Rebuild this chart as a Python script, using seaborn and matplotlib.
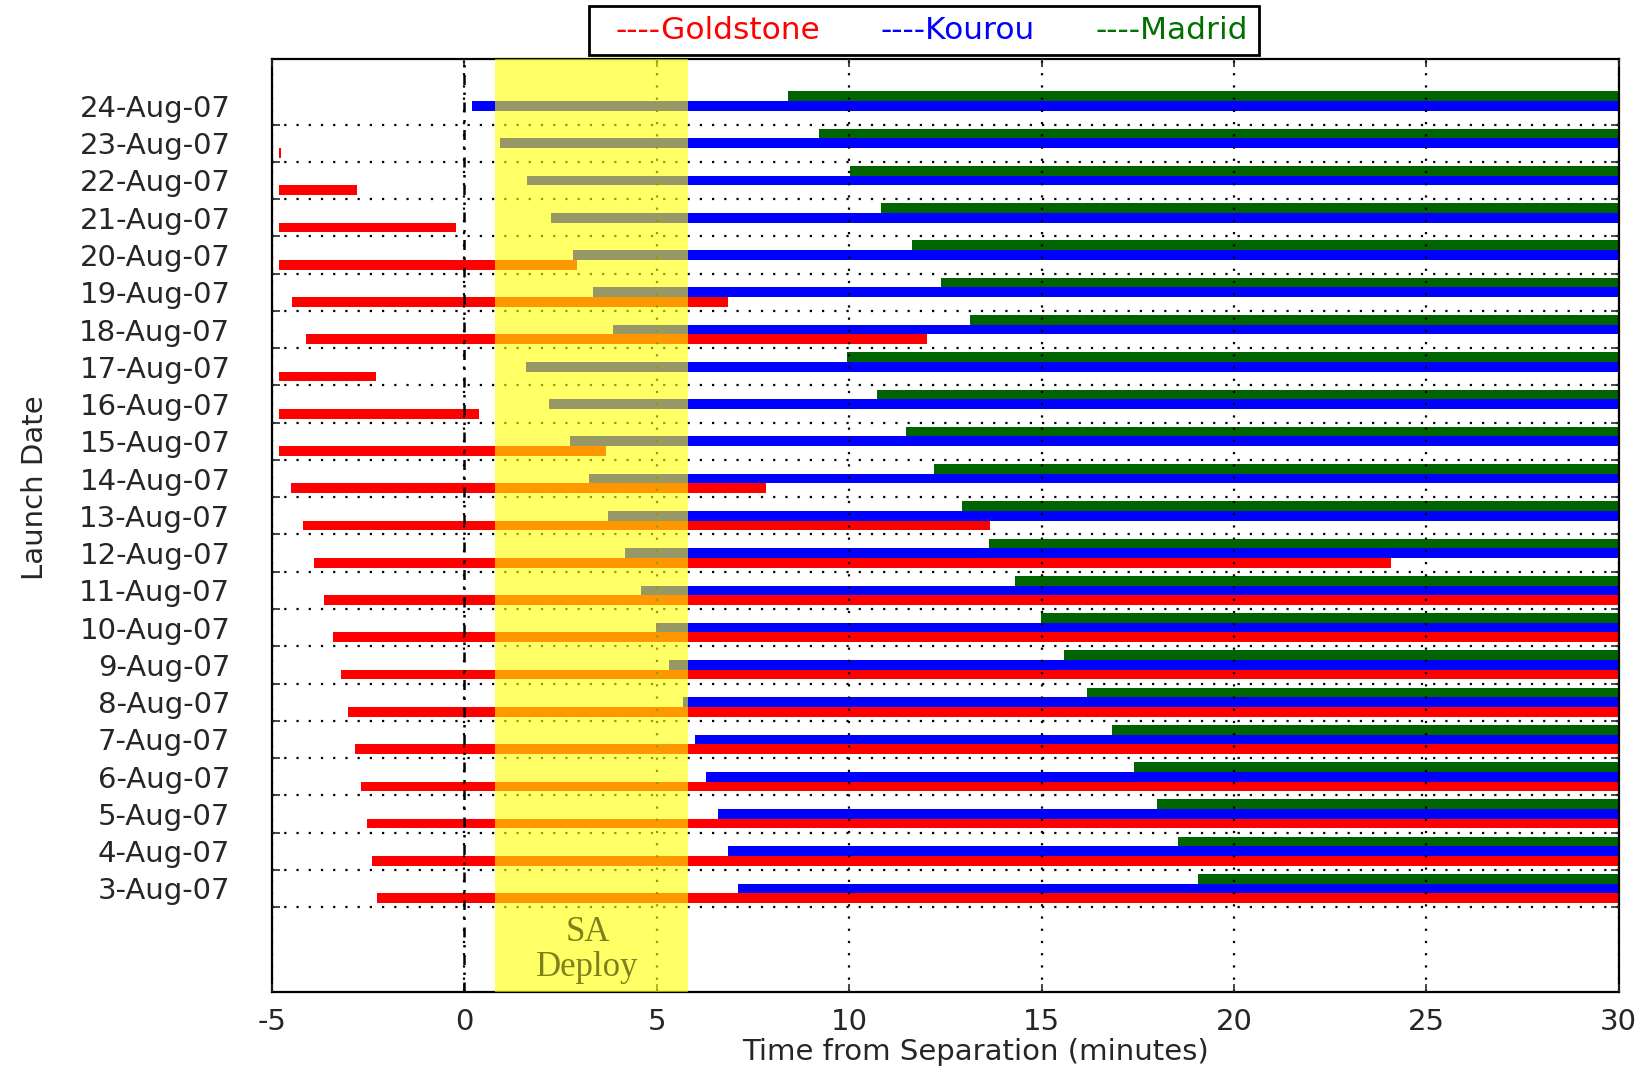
import numpy as np
import pandas as pd
import matplotlib
matplotlib.use('Agg')
import matplotlib.pyplot as plt
from matplotlib.lines import Line2D
from matplotlib.ticker import FixedLocator, MultipleLocator
import seaborn as sns

# --- Data (minutes from separation), top row first ---
dates = ['24-Aug-07', '23-Aug-07', '22-Aug-07', '21-Aug-07', '20-Aug-07', '19-Aug-07',
         '18-Aug-07', '17-Aug-07', '16-Aug-07', '15-Aug-07', '14-Aug-07', '13-Aug-07',
         '12-Aug-07', '11-Aug-07', '10-Aug-07', '9-Aug-07', '8-Aug-07', '7-Aug-07',
         '6-Aug-07', '5-Aug-07', '4-Aug-07', '3-Aug-07']

goldstone_start = [np.nan, -4.83, -4.81, -4.81, -4.81, -4.48, -4.11, -4.81, -4.81, -4.81, -4.52,
                   -4.19, -3.90, -3.66, -3.41, -3.20, -3.02, -2.84, -2.68, -2.53, -2.40, -2.28]
goldstone_end = [np.nan, -4.76, -2.80, -0.21, 2.93, 6.85, 12.02, -2.31, 0.38, 3.69, 7.85,
                 13.65, 24.09, 30, 30, 30, 30, 30, 30, 30, 30, 30]

kourou_start = [0.20, 0.93, 1.62, 2.24, 2.82, 3.35, 3.87, 1.59, 2.19, 2.74, 3.24,
                3.73, 4.17, 4.59, 4.98, 5.32, 5.67, 5.99, 6.29, 6.60, 6.86, 7.12]
kourou_end = [30] * 22

madrid_start = [8.40, 9.21, 10.02, 10.82, 11.62, 12.39, 13.14, 9.95, 10.72, 11.48, 12.21,
                12.94, 13.63, 14.31, 14.98, 15.59, 16.19, 16.82, 17.41, 17.99, 18.54, 19.06]
madrid_end = [30] * 22

stations = ['Madrid', 'Kourou', 'Goldstone']   # top to bottom inside each date
legend_order = ['Goldstone', 'Kourou', 'Madrid']
colors = {'Goldstone': '#ff0000', 'Kourou': '#0000ff', 'Madrid': '#006400'}
legend_colors = {'Goldstone': '#ff0000', 'Kourou': '#0000ff', 'Madrid': '#007000'}

deploy_window = (0.8, 5.8)

# --- Build long table ---
frames = []
for name, st, en in [('Goldstone', goldstone_start, goldstone_end),
                     ('Kourou', kourou_start, kourou_end),
                     ('Madrid', madrid_start, madrid_end)]:
    frames.append(pd.DataFrame({'date': dates, 'station': name, 'start': st, 'end': en}))
df = pd.concat(frames, ignore_index=True).dropna()

sns.set_theme(style='white')
plt.rcParams['font.family'] = ['DejaVu Sans']
plt.rcParams['axes.unicode_minus'] = False

fig = plt.figure(figsize=(16.44, 10.72), dpi=100)
ax = fig.add_axes([0.1655, 0.0749, 0.8191, 0.8701])

bar_width = 0.78
sns.barplot(data=df, y='date', x='end', hue='station', order=dates, hue_order=stations,
            palette=colors, orient='h', width=bar_width, dodge=True, saturation=1,
            errorbar=None, legend=False, linewidth=0, ax=ax)

# turn the bars into start->end spans
lookup = df.set_index(['date', 'station'])
step = bar_width / len(stations)
for bar in ax.patches:
    yc = bar.get_y() + bar.get_height() / 2
    idx = int(round(yc))
    k = int(round((yc - idx) / step)) + 1
    row = lookup.loc[(dates[idx], stations[k])]
    bar.set_x(row['start'])
    bar.set_width(row['end'] - row['start'])
    bar.set_zorder(1)

ax.set_xlim(-5, 30)
ax.set_ylim(23.77, -1.26)
ax.xaxis.set_major_locator(MultipleLocator(5))
ax.yaxis.set_minor_locator(FixedLocator([i + 0.5 for i in range(len(dates))]))

ax.set_axisbelow(False)
ax.grid(False)
ax.grid(True, which='major', axis='x', color='black', linestyle=(0, (1, 4.5)), linewidth=1.6)
ax.grid(True, which='minor', axis='y', color='black', linestyle=(0, (1, 4.5)), linewidth=1.6)
ax.axvline(0, color='black', linestyle=(0, (4, 3, 1, 3)), linewidth=1.8, zorder=2.6)

# SA deploy window
ax.axvspan(*deploy_window, color='#ffff00', alpha=0.6, linewidth=0, zorder=3)
ax.text(3.2, 22.65, 'SA\nDeploy', ha='center', va='center', fontsize=25, linespacing=1.08,
        family=['Liberation Serif', 'DejaVu Serif'], color='#80801a', zorder=5)

ax.tick_params(axis='y', which='major', length=0, pad=30, labelsize=21)
ax.tick_params(axis='y', which='minor', direction='in', length=6, width=1.2, left=True, right=True)
ax.tick_params(axis='x', which='major', direction='in', length=6, width=1.2, top=True, bottom=True,
               pad=12, labelsize=21)
for s in ax.spines.values():
    s.set_color('black')
    s.set_linewidth(1.6)

ax.set_xlabel('Time from Separation (minutes)', fontsize=21)
ax.set_ylabel('Launch Date', fontsize=21)
ax.xaxis.set_label_coords(0.522, -0.05)
ax.yaxis.set_label_coords(-0.166, 0.54)

handles = [Line2D([], [], linestyle='none') for _ in legend_order]
leg = ax.legend(handles, ['----' + n for n in legend_order], ncol=3,
                loc='lower left', bbox_to_anchor=(0.2354, 1.004), borderaxespad=0,
                fontsize=22.5, handlelength=0.5, handletextpad=0, columnspacing=1.45,
                borderpad=0.33, frameon=True, fancybox=False, framealpha=1,
                labelcolor=[legend_colors[n] for n in legend_order])
leg.get_frame().set_edgecolor('black')
leg.get_frame().set_linewidth(2)

fig.savefig('out.png', dpi=100)
